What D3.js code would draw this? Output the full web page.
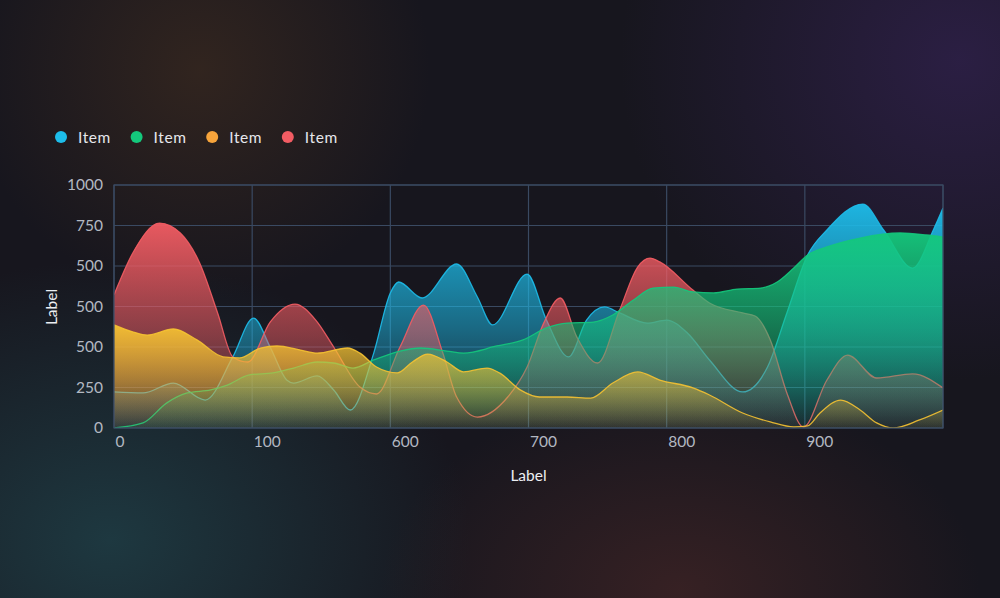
<!DOCTYPE html>
<html><head><meta charset="utf-8">
<script src="https://cdn.jsdelivr.net/npm/d3@7"></script>
<style>html,body{margin:0;padding:0;background:#17161e;}svg{display:block;font-family:Lato,"Open Sans",sans-serif;}</style>
</head><body><svg id="c" width="1000" height="598"></svg>
<script>
// ---- data ----
const seriesNames = ["Item", "Item", "Item", "Item"];
const xTickValues = [0, 100, 200, 300, 400, 500];
const xTickLabels = ["0", "100", "600", "700", "800", "900"];
const yTickValues = [0, 200, 400, 600, 800, 1000, 1200];
const yTickLabels = ["0", "250", "500", "500", "500", "750", "1000"];

const blueX = [0,21,43,66,86,101,113,125,130,147,159,171,188,200,206,223,248,263,274,299,313,329,342,355,366,386,400,415,431,455,473,487,502,516,542,557,578,593,600];
const blueY = [178,173,222,138,351,543,400,237,222,257,188,89,370,667,721,642,810,647,509,760,533,351,533,598,568,518,533,469,336,178,301,568,854,978,1106,978,790,978,1086];

const greenX = [0,21,38,53,70,82,98,115,130,147,159,173,188,207,222,241,253,277,296,313,328,347,361,376,390,405,419,434,451,468,480,492,502,516,540,569,588,600];
const greenY = [0,25,123,173,188,212,262,272,296,326,321,296,336,380,395,380,370,405,435,494,518,523,558,632,691,696,672,667,686,691,721,790,854,894,938,963,953,943];

const yellowX = [0,14,24,43,60,79,91,106,118,135,147,169,178,190,205,216,227,241,253,270,279,294,308,328,345,361,379,395,419,431,455,475,492,502,511,526,540,552,564,583,600];
const yellowY = [509,474,459,489,435,351,346,395,405,385,370,395,370,301,272,326,365,326,277,296,272,188,153,153,148,222,277,237,198,163,74,30,5,10,74,138,89,25,0,40,89];

const redX = [0,14,33,48,62,75,86,97,113,131,146,159,178,190,207,224,238,248,263,285,299,311,323,335,350,366,379,388,395,419,431,455,464,475,487,499,516,531,552,578,600];
const redY = [657,869,1012,963,815,568,351,326,523,612,533,400,202,168,400,607,370,153,54,153,301,518,642,449,321,583,795,839,820,681,617,568,553,435,173,5,237,360,247,267,198];

const colors = {blue:"#1dbdea", green:"#14c87c", yellow:"#f5c232", red:"#f25c63"};
const legendColors = ["#1dbdea", "#14c87c", "#f7a43b", "#f25c63"];

// ---- layout ----
const svg = d3.select("#c");
const W = 1000, H = 598;
const m = {left:114, right:943, top:185, bottom:428};

const defs = svg.append("defs");
function radial(id, color, op) {
  const g = defs.append("radialGradient").attr("id", id);
  g.append("stop").attr("offset", "0%").attr("stop-color", color).attr("stop-opacity", op);
  g.append("stop").attr("offset", "100%").attr("stop-color", color).attr("stop-opacity", 0);
}
radial("bgBrown", "#36271f", 0.85);
radial("bgTeal", "#1e3a42", 0.95);
radial("bgPurple", "#2c1f45", 0.95);
radial("bgRed", "#3a2224", 0.9);

svg.append("rect").attr("width", W).attr("height", H).attr("fill", "#17161e");
svg.append("ellipse").attr("cx", 200).attr("cy", 70).attr("rx", 230).attr("ry", 230).attr("fill", "url(#bgBrown)");
svg.append("ellipse").attr("cx", 110).attr("cy", 540).attr("rx", 360).attr("ry", 280).attr("fill", "url(#bgTeal)");
svg.append("ellipse").attr("cx", 960).attr("cy", 60).attr("rx", 340).attr("ry", 320).attr("fill", "url(#bgPurple)");
svg.append("ellipse").attr("cx", 680).attr("cy", 590).attr("rx", 300).attr("ry", 200).attr("fill", "url(#bgRed)");

const x = d3.scaleLinear().domain([0, 600]).range([m.left, m.right]);
const y = d3.scaleLinear().domain([0, 1200]).range([m.bottom, m.top]);

defs.append("clipPath").attr("id", "plotClip").append("rect")
  .attr("x", m.left).attr("y", m.top).attr("width", m.right - m.left).attr("height", m.bottom - m.top);

// grid
const gridColor = "#3a4a62";
svg.append("g").selectAll("line").data(yTickValues).join("line")
  .attr("x1", m.left).attr("x2", m.right).attr("y1", d => y(d)).attr("y2", d => y(d))
  .attr("stroke", gridColor).attr("stroke-width", 1.2);
svg.append("g").selectAll("line").data(xTickValues.concat([600])).join("line")
  .attr("x1", d => x(d)).attr("x2", d => x(d)).attr("y1", m.top).attr("y2", m.bottom)
  .attr("stroke", gridColor).attr("stroke-width", 1.2);

// series
const series = [
  {key:"blue", xs:blueX, ys:blueY},
  {key:"red", xs:redX, ys:redY},
  {key:"green", xs:greenX, ys:greenY},
  {key:"yellow", xs:yellowX, ys:yellowY}
];
series.forEach(s => {
  const g = defs.append("linearGradient").attr("id", "grad-" + s.key)
    .attr("x1", 0).attr("y1", 0).attr("x2", 0).attr("y2", 1);
  g.append("stop").attr("offset", "0%").attr("stop-color", colors[s.key]).attr("stop-opacity", 0.95);
  g.append("stop").attr("offset", "55%").attr("stop-color", colors[s.key]).attr("stop-opacity", 0.5);
  g.append("stop").attr("offset", "100%").attr("stop-color", colors[s.key]).attr("stop-opacity", 0.05);
});

const plot = svg.append("g").attr("clip-path", "url(#plotClip)");
const area = d3.area().curve(d3.curveMonotoneX).x(d => x(d[0])).y0(y(0)).y1(d => y(d[1]));
const line = d3.line().curve(d3.curveMonotoneX).x(d => x(d[0])).y(d => y(d[1]));
series.forEach(s => {
  const pts = s.xs.map((v, i) => [v, s.ys[i]]);
  plot.append("path").datum(pts).attr("d", area).attr("fill", "url(#grad-" + s.key + ")");
  plot.append("path").datum(pts).attr("d", line).attr("fill", "none")
    .attr("stroke", colors[s.key]).attr("stroke-width", 1.3).attr("stroke-opacity", 0.9);
});

// border
svg.append("rect").attr("x", m.left).attr("y", m.top).attr("width", m.right - m.left).attr("height", m.bottom - m.top)
  .attr("fill", "none").attr("stroke", gridColor).attr("stroke-width", 1.2);

// axes
const yAxis = d3.axisLeft(y).tickValues(yTickValues).tickSize(0).tickPadding(11)
  .tickFormat((d, i) => yTickLabels[i]);
const gy = svg.append("g").attr("transform", `translate(${m.left},0)`).call(yAxis);
gy.select(".domain").remove();
gy.selectAll("text").attr("fill", "#b3b8c2").style("font-size", "15.5px").style("font-family", "Lato, sans-serif");

const xAxis = d3.axisBottom(x).tickValues(xTickValues).tickSize(0).tickPadding(8)
  .tickFormat((d, i) => xTickLabels[i]);
const gx = svg.append("g").attr("transform", `translate(0,${m.bottom})`).call(xAxis);
gx.select(".domain").remove();
gx.selectAll("text").attr("fill", "#b3b8c2").attr("text-anchor", "start").attr("dx", "1")
  .style("font-size", "15.5px").style("font-family", "Lato, sans-serif");

// axis titles
svg.append("text").attr("x", (m.left + m.right) / 2).attr("y", 481).attr("text-anchor", "middle")
  .attr("fill", "#eceef2").style("font-size", "15.5px").text("Label");
svg.append("text").attr("transform", "translate(57,307) rotate(-90)").attr("text-anchor", "middle")
  .attr("fill", "#eceef2").style("font-size", "15.5px").text("Label");

// legend
const leg = svg.append("g").selectAll("g").data(seriesNames).join("g")
  .attr("transform", (d, i) => `translate(${61 + i * 75.6},137)`);
leg.append("circle").attr("r", 6).attr("fill", (d, i) => legendColors[i]);
leg.append("text").attr("x", 17).attr("y", 5.5).attr("fill", "#e6e7ec").style("font-size", "15.5px")
  .style("letter-spacing", "0.6px").text(d => d);
</script></body></html>
